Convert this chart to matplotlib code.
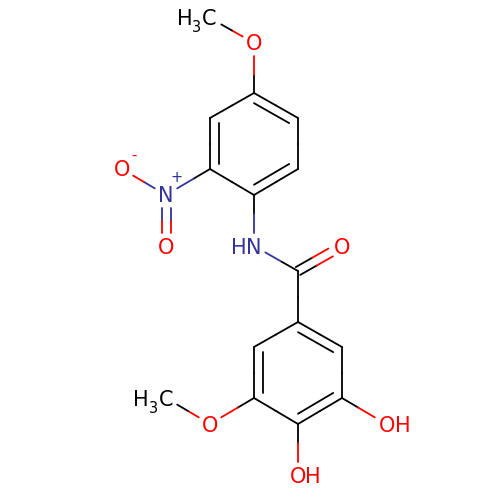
import numpy as np
from matplotlib import pyplot as plt

BLACK='#000000'
RED='#ff0000'
BLUE='#333399'

#atom positions in picture pixels
atom_names=['c1','c2','c3','c4','c5','c6','o_top','me_top','n_plus','o_minus','o_nitro',
            'nh','c_co','o_co','d1','d2','d3','d4','d5','d6','o_low','me_low','oh_r','oh_b']
atom_x=[254,210,210,254,298,298,254,210,166,122,166,254,298,342,298,254,254,298,342,342,210,166,386,298]
atom_y=[93,118,169,195,169,118,43,18,195,169,246,246,271,246,322,347,398,424,398,347,424,398,424,475]
atom_colors=[BLACK]*6+[RED,BLACK,BLUE,RED,RED,BLUE,BLACK,RED]+[BLACK]*6+[RED,BLACK,RED,RED]
#atoms that carry a label, bonds stop short of them
labelled=['o_top','me_top','n_plus','o_minus','o_nitro','nh','o_co','o_low','me_low','oh_r','oh_b']

single_bonds=[('c1','c2'),('c2','c3'),('c3','c4'),('c4','c5'),('c5','c6'),('c6','c1'),
              ('c1','o_top'),('o_top','me_top'),('c3','n_plus'),('n_plus','o_minus'),
              ('c4','nh'),('nh','c_co'),('c_co','d1'),
              ('d1','d2'),('d2','d3'),('d3','d4'),('d4','d5'),('d5','d6'),('d6','d1'),
              ('d3','o_low'),('o_low','me_low'),('d5','oh_r'),('d4','oh_b')]
double_bonds=[('n_plus','o_nitro'),('c_co','o_co')]
ring1=['c1','c2','c3','c4','c5','c6']
ring2=['d1','d2','d3','d4','d5','d6']
ring1_inner=[('c1','c6'),('c2','c3'),('c4','c5')]
ring2_inner=[('d1','d6'),('d2','d3'),('d4','d5')]

#text, left edge, baseline, colour, size
labels=[('H',177,25,BLACK,15),('3',192,32,BLACK,10.5),('C',202,25,BLACK,15),
        ('O',246,50.5,RED,15),
        ('O',114,176.5,RED,15),('-',131,160,RED,10.5),
        ('N',158,202.5,BLUE,15),('+',170,182,BLUE,10.5),
        ('O',158,253.5,RED,15),
        ('H',231,254,BLUE,15),('N',246,254,BLUE,15),
        ('O',334,253.5,RED,15),
        ('H',133,406,BLACK,15),('3',149,413,BLACK,10.5),('C',159,406,BLACK,15),
        ('O',202,431.5,RED,15),
        ('O',379,431.5,RED,15),('H',395,431.5,RED,15),
        ('O',290,483,RED,15),('H',305,483,RED,15)]

TRIM=13
LW=1.3
OFFSET=4.5
INNER=0.8

pos={n:np.array([x,y],dtype=float) for n,x,y in zip(atom_names,atom_x,atom_y)}
col=dict(zip(atom_names,atom_colors))

def draw_half(ax,p,q,c1,c2):
    """draw p-q with each half in the colour of its atom
    """
    m=(p+q)/2
    ax.plot([p[0],m[0]],[p[1],m[1]],color=c1,lw=LW,solid_capstyle='round')
    ax.plot([m[0],q[0]],[m[1],q[1]],color=c2,lw=LW,solid_capstyle='round')

def trimmed(a,b):
    p,q=pos[a].copy(),pos[b].copy()
    u=(q-p)/np.linalg.norm(q-p)
    if a in labelled:
        p+=u*TRIM
    if b in labelled:
        q-=u*TRIM
    return p,q

def main():
    fig=plt.figure(figsize=(5,5),dpi=100)
    ax=fig.add_axes([0,0,1,1])
    ax.set_xlim(0,500)
    ax.set_ylim(500,0)
    ax.axis('off')

    for a,b in single_bonds:
        p,q=trimmed(a,b)
        draw_half(ax,p,q,col[a],col[b])

    #two parallel strokes
    for a,b in double_bonds:
        p,q=trimmed(a,b)
        u=(q-p)/np.linalg.norm(q-p)
        n=np.array([-u[1],u[0]])*OFFSET
        for s in (-1,1):
            draw_half(ax,p+s*n,q+s*n,col[a],col[b])

    #inner ring strokes are the ring edge scaled toward its centre
    for ring,inner in ((ring1,ring1_inner),(ring2,ring2_inner)):
        centre=np.mean([pos[n] for n in ring],axis=0)
        for a,b in inner:
            p=centre+(pos[a]-centre)*INNER
            q=centre+(pos[b]-centre)*INNER
            ax.plot([p[0],q[0]],[p[1],q[1]],color=BLACK,lw=LW,solid_capstyle='round')

    for t,x,y,c,s in labels:
        ax.text(x,y,t,color=c,fontsize=s,ha='left',va='baseline',family='DejaVu Sans')

    fig.savefig('out.png',dpi=100,facecolor='white')

if __name__=='__main__':
    main()
